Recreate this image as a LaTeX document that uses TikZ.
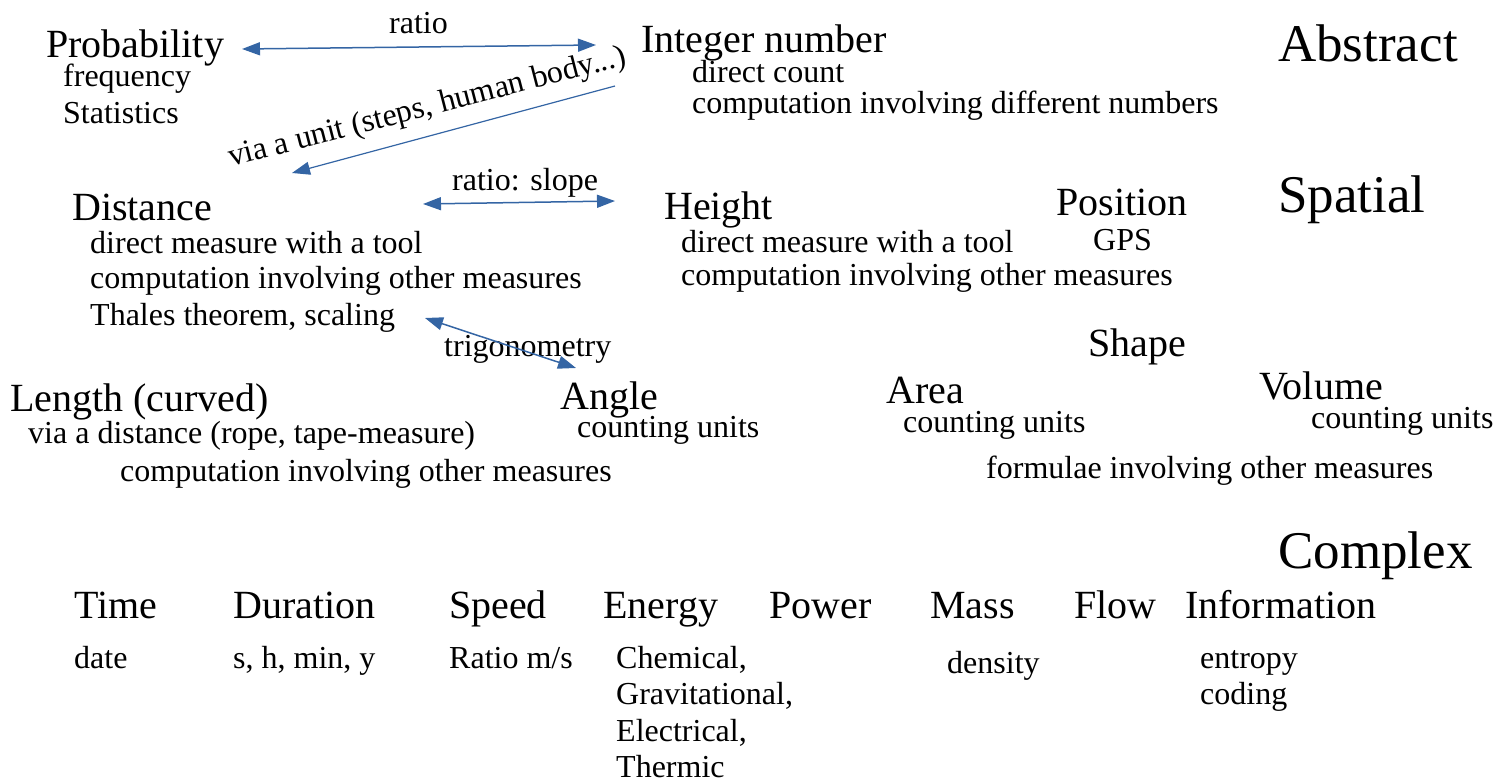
\documentclass[tikz,border=0pt]{standalone}
\usepackage{fontspec}
\setmainfont{Liberation Serif}
\usetikzlibrary{arrows.meta}
\definecolor{arrowblue}{HTML}{3465A4}
\tikzset{
  t/.style={anchor=base west, inner sep=0pt, font=\fontsize{32}{38}\selectfont},
  big/.style={anchor=base west, inner sep=0pt, font=\fontsize{40}{46}\selectfont},
  title/.style={anchor=base west, inner sep=0pt, font=\fontsize{53}{60}\selectfont},
  link/.style={draw=arrowblue, line width=1.5pt, {Triangle[length=18pt,width=13pt]}-{Triangle[length=18pt,width=13pt]}},
  onelink/.style={draw=arrowblue, line width=1.2pt, -{Triangle[length=18pt,width=13pt]}}
}
\begin{document}
\begin{tikzpicture}[x=1pt,y=-1pt]
\useasboundingbox (0,0) rectangle (1507,778);
% Abstract
\node[big] (prob) at (46,58) {Probability};
\node[t] (freq) at (63,87) {frequency};
\node[t] (stat) at (63,124) {Statistics};
\node[big] (int) at (641,53) {Integer number};
\node[t] (dc) at (692,83) {direct count};
\node[t] (cid) at (692,114) {computation involving different numbers};
\node[title] (abs) at (1278,62) {Abstract};
\node[t] (ratio) at (389,34) {ratio};
\coordinate (pa) at (242,49);
\coordinate (ia) at (596,45);
\draw[link] (pa) -- (ia);
\node[t, rotate=14.5, anchor=base west] (unit) at (231,167) {via a unit (steps, human body...)};
\coordinate (ib) at (615,86);
\coordinate (da) at (292,173);
\draw[onelink] (ib) -- (da);
% Spatial
\node[big] (dist) at (72,221) {Distance};
\node[t] (d1) at (90,253) {direct measure with a tool};
\node[t] (d2) at (90,288) {computation involving other measures};
\node[t] (d3) at (90,325) {Thales theorem, scaling};
\node[t] (slope) at (452,191) {ratio: slope};
\coordinate (db) at (423,204);
\coordinate (ha) at (615,201);
\draw[link] (db) -- (ha);
\node[big] (height) at (664,219) {Height};
\node[t] (h1) at (681,252) {direct measure with a tool};
\node[t] (h2) at (681,285) {computation involving other measures};
\node[big] (pos) at (1056,216) {Position};
\node[t] (gps) at (1093,251) {GPS};
\node[title] (spat) at (1278,212) {Spatial};
\node[big] (shape) at (1088,356) {Shape};
\node[t] (trig) at (444,356) {trigonometry};
\coordinate (dc3) at (425,318);
\coordinate (aa) at (576,368);
\draw[link] (dc3) -- (aa);
\node[big] (len) at (10,411) {Length (curved)};
\node[t] (l1) at (28,443) {via a distance (rope, tape-measure)};
\node[t] (l2) at (120,481) {computation involving other measures};
\node[big] (angle) at (560,409) {Angle};
\node[t] (a1) at (577,437) {counting units};
\node[big] (area) at (886,403) {Area};
\node[t] (ar1) at (903,432) {counting units};
\node[big] (vol) at (1259,399) {Volume};
\node[t] (v1) at (1311,428) {counting units};
\node[t] (form) at (986,478) {formulae involving other measures};
% Complex
\node[title] (cplx) at (1278,568) {Complex};
\node[big] (time) at (74,618) {Time};
\node[big] (dur) at (233,618) {Duration};
\node[big] (speed) at (449,618) {Speed};
\node[big] (energy) at (603,618) {Energy};
\node[big] (power) at (769,618) {Power};
\node[big] (mass) at (930,618) {Mass};
\node[big] (flow) at (1074,618) {Flow};
\node[big] (info) at (1185,618) {Information};
\node[t] (date) at (74,668) {date};
\node[t] (units) at (233,668) {s, h, min, y};
\node[t] (ms) at (449,668) {Ratio m/s};
\node[t] (e1) at (616,668) {Chemical,};
\node[t] (e2) at (616,704) {Gravitational,};
\node[t] (e3) at (616,741) {Electrical,};
\node[t] (e4) at (616,777) {Thermic};
\node[t] (dens) at (947,673) {density};
\node[t] (ent) at (1200,668) {entropy};
\node[t] (cod) at (1200,704) {coding};
\end{tikzpicture}
\end{document}
